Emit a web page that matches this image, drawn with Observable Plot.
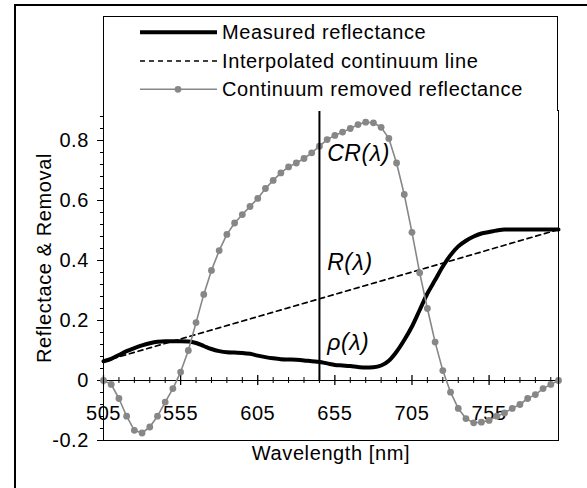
<!DOCTYPE html>
<html>
<head>
<meta charset="utf-8">
<script src="https://cdn.jsdelivr.net/npm/d3@7"></script>
<script src="https://cdn.jsdelivr.net/npm/@observablehq/plot@0.6"></script>
<style>
html, body { margin: 0; padding: 0; background: #fff; }
#wrap { position: relative; width: 587px; height: 488px; overflow: hidden; font-family: "Liberation Sans", Arial, sans-serif; }
#outer { position: absolute; left: 14px; top: 4px; width: 700px; height: 700px; border-left: 2.6px solid #000; border-top: 2.6px solid #000; }
#chart { position: absolute; left: 0; top: 0; }
#legend { position: absolute; left: 103px; top: 16px; width: 455px; height: 95px; box-sizing: border-box; border: 1px solid #000; border-bottom: none; background: #fff; }
#legend text { font-family: "Liberation Sans", Arial, sans-serif; font-size: 20px; letter-spacing: 0.6px; fill: #000; }
#ytitle { position: absolute; left: 44px; top: 257.5px; transform: translate(-50%, -50%) rotate(-90deg); white-space: nowrap; font-size: 20px; letter-spacing: 0.6px; line-height: 1; }
#chart text { letter-spacing: 0.6px; }
</style>
</head>
<body>
<div id="wrap">
  <div id="outer"></div>
  <div id="chart"></div>
  <div id="legend"></div>
  <div id="ytitle">Reflectace &amp; Removal</div>
</div>
<script>
// ---- data ----
const wavelengths = [505, 510, 515, 520, 525, 530, 535, 540, 545, 550,
  555, 560, 565, 570, 575, 580, 585, 590, 595, 600,
  605, 610, 615, 620, 625, 630, 635, 640, 645, 650,
  655, 660, 665, 670, 675, 680, 685, 690, 695, 700,
  705, 710, 715, 720, 725, 730, 735, 740, 745, 750,
  755, 760, 765, 770, 775, 780, 785, 790, 795, 800];

const measured = [0.064, 0.072, 0.085, 0.098, 0.108, 0.117, 0.124, 0.129, 0.131, 0.131,
  0.131, 0.130, 0.125, 0.115, 0.105, 0.098, 0.094, 0.093, 0.092, 0.089,
  0.083, 0.078, 0.074, 0.071, 0.070, 0.069, 0.067, 0.064, 0.062, 0.057,
  0.052, 0.050, 0.048, 0.045, 0.043, 0.044, 0.050, 0.066, 0.096, 0.135,
  0.180, 0.235, 0.290, 0.335, 0.380, 0.418, 0.447, 0.466, 0.480, 0.490,
  0.495, 0.500, 0.503, 0.503, 0.503, 0.503, 0.503, 0.503, 0.503, 0.503];

const continuumRemoved = [0, -0.013, -0.06, -0.119, -0.166, -0.175, -0.155, -0.119, -0.072, -0.027,
  0.028, 0.10, 0.193, 0.287, 0.367, 0.433, 0.487, 0.525, 0.553, 0.58,
  0.607, 0.64, 0.667, 0.692, 0.712, 0.725, 0.74, 0.759, 0.781, 0.803,
  0.817, 0.828, 0.84, 0.853, 0.861, 0.859, 0.844, 0.807, 0.725, 0.62,
  0.494, 0.359, 0.24, 0.128, 0.033, -0.039, -0.093, -0.127, -0.141, -0.139,
  -0.133, -0.119, -0.108, -0.093, -0.08, -0.06, -0.047, -0.027, -0.013, 0];

const continuumWavelengths = [505, 800];
const continuumValues = [0.064, 0.503];

const markerWavelength = 645;

const xMajorTicks = [505, 555, 605, 655, 705, 755];
const xMinorTicks = [515, 525, 535, 545, 565, 575, 585, 595, 615, 625, 635, 645,
  665, 675, 685, 695, 715, 725, 735, 745, 765, 775, 785, 795];
const yMajorTicks = [-0.2, 0, 0.2, 0.4, 0.6, 0.8];
const yMinorTicks = [-0.16, -0.12, -0.08, -0.04, 0.04, 0.08, 0.12, 0.16, 0.24, 0.28, 0.32, 0.36,
  0.44, 0.48, 0.52, 0.56, 0.64, 0.68, 0.72, 0.76, 0.84, 0.88];

const annotations = [
  {w: 650, v: 0.757, label: "CR(λ)", font: "Liberation Sans"},
  {w: 650, v: 0.392, label: "R(λ)", font: "Liberation Sans"},
  {w: 650, v: 0.125, label: "ρ(λ)", font: "Liberation Serif"}
];

const legendItems = ["Measured reflectance", "Interpolated continuum line", "Continuum removed reflectance"];

// ---- tables ----
const measuredData = wavelengths.map((w, i) => ({w, v: measured[i]}));
const crData = wavelengths.map((w, i) => ({w, v: continuumRemoved[i]}));
const contData = continuumWavelengths.map((w, i) => ({w, v: continuumValues[i]}));

const gray = "#878787";
const yFmt = d => d === 0 ? "0" : d.toFixed(1);

const chart = Plot.plot({
  width: 587,
  height: 488,
  marginLeft: 103,
  marginRight: 29,
  marginTop: 110,
  marginBottom: 48,
  style: {fontFamily: "Liberation Sans, Arial, sans-serif", fontSize: "20px", background: "transparent", overflow: "visible"},
  x: {domain: [505, 800], axis: null},
  y: {domain: [-0.2, 0.9], axis: null},
  marks: [
    // x tick labels (under the curves)
    Plot.text(xMajorTicks, {x: d => d, y: () => 0, dy: 33, text: d => String(d), fontSize: 20, fill: "#000", lineAnchor: "middle"}),
    // y axis ticks and labels
    Plot.ruleY(yMinorTicks, {y: d => d, x1: () => 505, x2: () => 505, insetLeft: -3, insetRight: 0, stroke: "#000", strokeWidth: 1}),
    Plot.ruleY(yMajorTicks, {y: d => d, x1: () => 505, x2: () => 505, insetLeft: -6, insetRight: 0, stroke: "#000", strokeWidth: 1}),
    Plot.text(yMajorTicks, {x: () => 505, y: d => d, dx: -14.5, text: yFmt, textAnchor: "end", lineAnchor: "middle", fontSize: 20, fill: "#000"}),
    // zero axis with ticks
    Plot.ruleY([0], {stroke: "#000", strokeWidth: 1}),
    Plot.ruleX(xMinorTicks, {x: d => d, y1: () => 0, y2: () => 0, insetTop: 3, insetBottom: 3, stroke: "#000", strokeWidth: 1}),
    Plot.ruleX(xMajorTicks, {x: d => d, y1: () => 0, y2: () => 0, insetTop: 5, insetBottom: 5, stroke: "#000", strokeWidth: 1.3}),
    // series
    Plot.line(measuredData, {x: "w", y: "v", stroke: "#000", strokeWidth: 4, curve: "monotone-x", strokeLinejoin: "round"}),
    Plot.line(contData, {x: "w", y: "v", stroke: "#000", strokeWidth: 1.7, strokeDasharray: "5,4"}),
    Plot.line(crData, {x: "w", y: "v", stroke: gray, strokeWidth: 1.6}),
    Plot.dot(crData, {x: "w", y: "v", r: 3.4, fill: gray, stroke: "none"}),
    // vertical marker
    Plot.ruleX([markerWavelength], {x: d => d, y1: () => 0, y2: () => 0.9, stroke: "#000", strokeWidth: 2}),
    // annotations
    Plot.text(annotations, {x: "w", y: "v", text: "label", textAnchor: "start", lineAnchor: "middle", fontSize: 23, fontStyle: "italic", fontFamily: d => d.font, fill: "#000"}),
    // axis title
    Plot.text(["Wavelength [nm]"], {frameAnchor: "bottom", dy: 13, lineAnchor: "middle", fontSize: 20, fill: "#000"}),
    // frame
    Plot.frame({stroke: "#000", strokeWidth: 1})
  ]
});
document.getElementById("chart").append(chart);

// ---- legend ----
const lg = d3.select("#legend").append("svg").attr("width", 453).attr("height", 94);
const rowsY = [15.3, 44, 72.3];
lg.append("line").attr("x1", 36).attr("x2", 113).attr("y1", rowsY[0]).attr("y2", rowsY[0]).attr("stroke", "#000").attr("stroke-width", 4);
lg.append("line").attr("x1", 36).attr("x2", 113).attr("y1", rowsY[1]).attr("y2", rowsY[1]).attr("stroke", "#000").attr("stroke-width", 1.7).attr("stroke-dasharray", "5,4");
lg.append("line").attr("x1", 36).attr("x2", 113).attr("y1", rowsY[2]).attr("y2", rowsY[2]).attr("stroke", gray).attr("stroke-width", 1.6);
lg.append("circle").attr("cx", 74).attr("cy", rowsY[2]).attr("r", 3.4).attr("fill", gray);
legendItems.forEach((t, i) => {
  lg.append("text").attr("x", 118).attr("y", rowsY[i] - 0.5).attr("dominant-baseline", "central").text(t);
});
</script>
</body>
</html>
